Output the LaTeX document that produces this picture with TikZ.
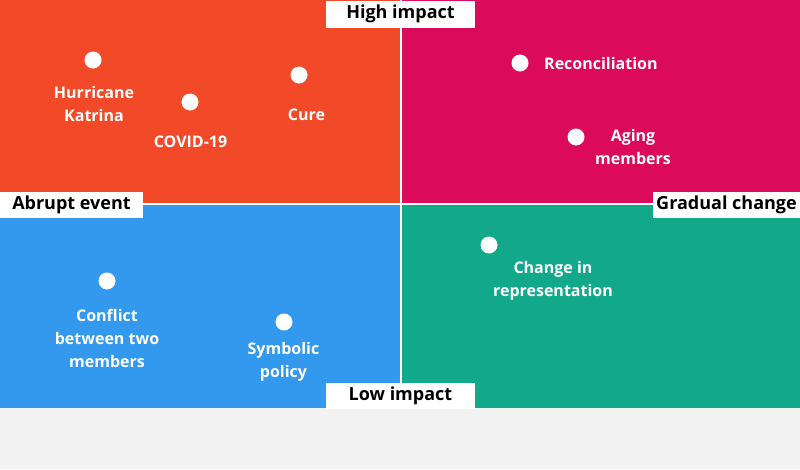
\documentclass[tikz,border=0pt]{standalone}
\usepackage{fontspec}
\setmainfont{Open Sans}
\definecolor{qorange}{HTML}{F24A28}
\definecolor{qmagenta}{HTML}{DB0A5B}
\definecolor{qblue}{HTML}{3399EE}
\definecolor{qteal}{HTML}{12A88A}
\definecolor{qgray}{HTML}{F2F2F2}
\begin{document}
\begin{tikzpicture}[x=1pt,y=-1pt,
  quad/.style={fill=#1,draw=none},
  dot/.style={circle,fill=white,draw=none,inner sep=0pt,minimum size=17pt},
  item/.style={text=white,font=\bfseries\fontsize{16}{23}\selectfont,align=center,inner sep=0pt},
  axislabel/.style={fill=white,text=black,font=\bfseries\fontsize{18}{20}\selectfont,inner sep=0pt,minimum height=26pt}
]
\useasboundingbox (0,0) rectangle (800,469);
\fill[white] (0,0) rectangle (800,408);
\fill[qgray] (0,408) rectangle (800,469);
\fill[quad=qorange] (0,0) rectangle (400,203);
\fill[quad=qmagenta] (402,0) rectangle (800,203);
\fill[quad=qblue] (0,205) rectangle (400,408);
\fill[quad=qteal] (402,205) rectangle (800,408);

\node[axislabel,minimum width=149pt,minimum height=27pt] (high) at (400.5,14) {High impact};
\node[axislabel,minimum width=149pt] (low) at (400.5,395.5) {Low impact};
\node[axislabel,minimum width=143pt] (abrupt) at (71.5,204.5) {Abrupt event};
\node[axislabel,minimum width=147pt] (gradual) at (726.5,204.5) {Gradual change};

\node[dot] (d1) at (93,60) {};
\node[dot] (d2) at (190,102) {};
\node[dot] (d3) at (299,75) {};
\node[dot] (d4) at (520,63) {};
\node[dot] (d5) at (576,137) {};
\node[dot] (d6) at (489,245) {};
\node[dot] (d7) at (107,281) {};
\node[dot] (d8) at (284,322) {};

\node[item] (t1) at (94,104) {Hurricane\\Katrina};
\node[item] (t2) at (190.5,141.5) {COVID-19};
\node[item] (t3) at (306.5,114.5) {Cure};
\node[item,anchor=west] (t4) at (544,63.5) {Reconciliation};
\node[item] (t5) at (633,146.5) {Aging\\members};
\node[item] (t6) at (553,281) {Change in\\representation};
\node[item] (t7) at (107,338.5) {Conflict\\between two\\members};
\node[item] (t8) at (283.5,362) {Symbolic\\policy};
\end{tikzpicture}
\end{document}
